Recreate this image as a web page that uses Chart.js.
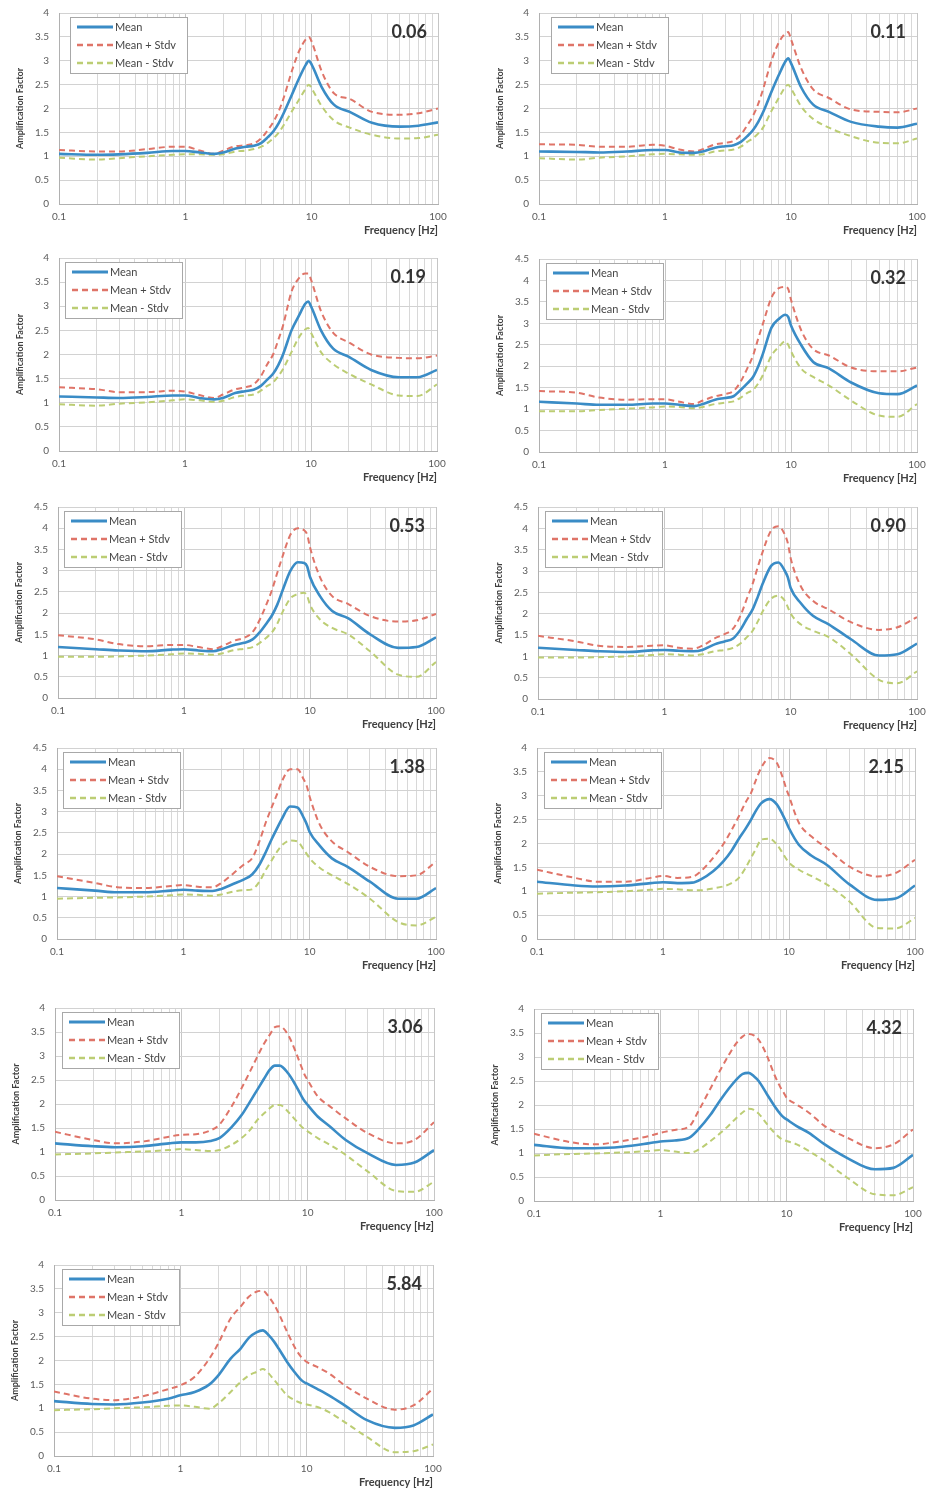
<!DOCTYPE html>
<html>
<head>
<meta charset="utf-8">
<script src="https://cdn.jsdelivr.net/npm/chart.js@4.4.1/dist/chart.umd.min.js"></script>
<style>
  body { margin: 0; background: #fff; }
  #page { position: relative; width: 930px; height: 1491px; overflow: hidden; background: #fff; }
  #page canvas { position: absolute; }
</style>
</head>
<body>
<div id="page"></div>
<script>
// frequencies (Hz) shared by every curve
const freq = [0.1, 0.2, 0.3, 0.5, 0.8, 1, 1.3, 1.7, 2, 2.5, 3, 3.5, 4, 4.5, 5, 5.5, 6, 7, 8, 9, 9.5, 10, 12, 15, 20, 30, 50, 70, 100];
const xTickLabels = ['0.1', '1', '10', '100'];
const seriesNames = ['Mean', 'Mean + Stdv', 'Mean - Stdv'];
const panelTitles = ['0.06', '0.11', '0.19', '0.32', '0.53', '0.90', '1.38', '2.15', '3.06', '4.32', '5.84'];
const yMaxes = [4, 4, 4, 4.5, 4.5, 4.5, 4.5, 4, 4, 4, 4];

const mean_006  = [1.05,1.03,1.04,1.07,1.11,1.11,1.08,1.05,1.08,1.16,1.2,1.22,1.28,1.4,1.53,1.7,1.9,2.3,2.65,2.92,3.0,2.92,2.45,2.08,1.93,1.7,1.62,1.64,1.71];
const plus_006  = [1.13,1.1,1.1,1.15,1.2,1.2,1.12,1.05,1.12,1.21,1.23,1.27,1.38,1.55,1.73,1.95,2.22,2.8,3.22,3.45,3.5,3.4,2.78,2.32,2.2,1.93,1.87,1.9,2.0];
const minus_006 = [0.97,0.93,0.96,1.0,1.03,1.04,1.04,1.03,1.04,1.1,1.12,1.15,1.2,1.28,1.38,1.5,1.65,1.95,2.2,2.42,2.5,2.42,2.05,1.75,1.6,1.45,1.37,1.38,1.45];

const mean_011  = [1.1,1.09,1.08,1.1,1.13,1.13,1.08,1.07,1.1,1.18,1.21,1.23,1.3,1.42,1.55,1.72,1.92,2.35,2.7,2.98,3.05,2.95,2.45,2.08,1.93,1.72,1.62,1.6,1.68];
const plus_011  = [1.25,1.24,1.2,1.2,1.24,1.22,1.14,1.1,1.15,1.25,1.28,1.32,1.45,1.65,1.85,2.1,2.4,3.0,3.38,3.57,3.6,3.45,2.85,2.4,2.22,1.98,1.93,1.92,2.0];
const minus_011 = [0.96,0.93,0.97,1.0,1.04,1.05,1.04,1.03,1.04,1.1,1.12,1.14,1.2,1.3,1.38,1.48,1.6,1.95,2.22,2.45,2.5,2.42,2.05,1.78,1.6,1.42,1.28,1.27,1.37];

const mean_019  = [1.13,1.11,1.1,1.12,1.15,1.15,1.1,1.07,1.1,1.2,1.24,1.27,1.35,1.48,1.6,1.78,2.0,2.5,2.8,3.05,3.1,3.0,2.5,2.12,1.95,1.68,1.53,1.53,1.68];
const plus_019  = [1.32,1.28,1.22,1.22,1.25,1.23,1.16,1.1,1.17,1.28,1.32,1.38,1.55,1.8,2.0,2.3,2.6,3.3,3.58,3.68,3.68,3.55,2.9,2.45,2.25,2.0,1.93,1.92,1.98];
const minus_019 = [0.97,0.94,0.98,1.01,1.05,1.07,1.05,1.02,1.04,1.12,1.15,1.17,1.25,1.35,1.42,1.55,1.7,2.05,2.35,2.52,2.55,2.45,2.05,1.8,1.6,1.38,1.15,1.14,1.38];

const mean_032  = [1.17,1.13,1.1,1.1,1.13,1.13,1.1,1.07,1.12,1.22,1.26,1.3,1.45,1.6,1.75,2.0,2.3,2.9,3.1,3.2,3.15,2.95,2.5,2.1,1.95,1.62,1.37,1.35,1.55];
const plus_032  = [1.42,1.38,1.27,1.22,1.23,1.23,1.17,1.12,1.2,1.3,1.35,1.42,1.65,1.95,2.25,2.65,3.0,3.6,3.82,3.85,3.8,3.55,2.85,2.4,2.25,1.97,1.88,1.88,1.97];
const minus_032 = [0.95,0.95,0.98,1.01,1.04,1.06,1.05,1.02,1.05,1.12,1.15,1.18,1.27,1.38,1.45,1.6,1.8,2.25,2.45,2.58,2.5,2.35,1.95,1.75,1.55,1.2,0.85,0.82,1.12];

const mean_053  = [1.2,1.15,1.12,1.1,1.14,1.15,1.12,1.1,1.15,1.25,1.3,1.38,1.55,1.75,1.95,2.2,2.5,3.0,3.2,3.18,3.1,2.85,2.4,2.05,1.88,1.5,1.18,1.2,1.43];
const plus_053  = [1.48,1.38,1.27,1.22,1.25,1.25,1.2,1.15,1.22,1.35,1.42,1.55,1.85,2.2,2.55,2.95,3.3,3.85,4.0,3.95,3.85,3.55,2.85,2.4,2.22,1.93,1.8,1.83,1.98];
const minus_053 = [0.97,0.97,0.98,1.0,1.03,1.05,1.04,1.02,1.05,1.13,1.16,1.2,1.3,1.42,1.55,1.75,2.0,2.35,2.45,2.48,2.4,2.2,1.85,1.65,1.5,1.1,0.55,0.5,0.85];

const mean_090  = [1.2,1.15,1.12,1.1,1.14,1.15,1.13,1.12,1.15,1.28,1.35,1.42,1.62,1.88,2.1,2.4,2.7,3.12,3.2,3.0,2.85,2.6,2.25,1.95,1.75,1.4,1.02,1.05,1.3];
const plus_090  = [1.48,1.35,1.25,1.22,1.25,1.26,1.2,1.18,1.25,1.42,1.52,1.65,1.95,2.35,2.7,3.1,3.45,3.95,4.05,3.85,3.65,3.3,2.65,2.3,2.1,1.8,1.62,1.68,1.92];
const minus_090 = [0.97,0.97,0.98,1.0,1.03,1.05,1.04,1.02,1.05,1.12,1.15,1.2,1.3,1.45,1.6,1.82,2.05,2.35,2.42,2.3,2.15,2.0,1.75,1.6,1.45,1.05,0.45,0.37,0.65];

const mean_138  = [1.2,1.14,1.1,1.1,1.14,1.16,1.14,1.13,1.18,1.3,1.4,1.52,1.75,2.05,2.35,2.6,2.82,3.12,3.1,2.85,2.7,2.52,2.2,1.9,1.7,1.35,0.95,0.95,1.2];
const plus_138  = [1.48,1.32,1.22,1.2,1.25,1.27,1.23,1.22,1.32,1.55,1.75,1.9,2.3,2.75,3.1,3.4,3.7,4.0,4.0,3.75,3.6,3.35,2.7,2.3,2.05,1.7,1.48,1.5,1.82];
const minus_138 = [0.95,0.97,0.98,1.0,1.03,1.05,1.04,1.02,1.05,1.12,1.15,1.17,1.35,1.63,1.85,2.05,2.2,2.32,2.3,2.1,2.0,1.9,1.68,1.5,1.3,0.95,0.4,0.32,0.52];

const mean_215  = [1.2,1.12,1.1,1.12,1.17,1.19,1.17,1.18,1.25,1.42,1.62,1.85,2.1,2.3,2.5,2.7,2.84,2.93,2.82,2.58,2.45,2.32,1.97,1.75,1.55,1.15,0.82,0.85,1.12];
const plus_215  = [1.45,1.28,1.2,1.2,1.28,1.32,1.28,1.3,1.42,1.7,1.98,2.28,2.57,2.85,3.06,3.35,3.58,3.79,3.69,3.35,3.15,2.99,2.43,2.15,1.9,1.52,1.31,1.38,1.66];
const minus_215 = [0.95,0.97,0.98,1.0,1.03,1.05,1.04,1.02,1.02,1.06,1.1,1.17,1.28,1.48,1.7,1.9,2.08,2.1,1.98,1.78,1.68,1.6,1.45,1.32,1.14,0.79,0.23,0.22,0.44];

const mean_306  = [1.18,1.12,1.1,1.12,1.18,1.2,1.2,1.23,1.29,1.52,1.77,2.05,2.3,2.52,2.71,2.8,2.8,2.64,2.4,2.15,2.05,1.98,1.74,1.53,1.25,0.97,0.73,0.78,1.04];
const plus_306  = [1.42,1.25,1.18,1.22,1.32,1.36,1.37,1.45,1.57,1.95,2.33,2.68,2.99,3.25,3.44,3.6,3.62,3.44,3.1,2.75,2.6,2.5,2.16,1.95,1.7,1.39,1.18,1.25,1.62];
const minus_306 = [0.95,0.97,0.99,1.01,1.04,1.06,1.04,1.02,1.04,1.15,1.29,1.46,1.67,1.8,1.91,1.98,1.98,1.84,1.67,1.52,1.47,1.43,1.29,1.15,0.94,0.59,0.19,0.17,0.38];

const mean_432  = [1.17,1.1,1.1,1.13,1.2,1.24,1.26,1.32,1.49,1.8,2.11,2.35,2.53,2.65,2.67,2.6,2.5,2.22,1.98,1.8,1.74,1.7,1.56,1.42,1.18,0.9,0.66,0.69,0.96];
const plus_432  = [1.4,1.22,1.18,1.25,1.35,1.42,1.48,1.56,1.87,2.35,2.74,3.05,3.29,3.43,3.48,3.45,3.36,3.02,2.63,2.35,2.25,2.15,2.01,1.84,1.56,1.32,1.1,1.18,1.49];
const minus_432 = [0.95,0.98,0.99,1.01,1.04,1.06,1.03,1.0,1.07,1.25,1.42,1.58,1.73,1.85,1.92,1.9,1.82,1.6,1.42,1.3,1.27,1.25,1.18,1.04,0.83,0.49,0.14,0.12,0.29];

const mean_584  = [1.15,1.09,1.08,1.12,1.2,1.27,1.34,1.5,1.69,2.04,2.25,2.48,2.59,2.63,2.53,2.4,2.25,1.97,1.76,1.6,1.55,1.52,1.41,1.27,1.06,0.75,0.59,0.64,0.87];
const plus_584  = [1.35,1.2,1.17,1.25,1.4,1.48,1.66,2.04,2.36,2.88,3.13,3.34,3.44,3.46,3.34,3.18,2.99,2.6,2.29,2.08,2.02,1.97,1.87,1.73,1.48,1.2,0.97,1.06,1.41];
const minus_584 = [0.96,0.98,1.0,1.02,1.05,1.06,1.03,0.99,1.1,1.34,1.55,1.69,1.76,1.82,1.73,1.6,1.48,1.27,1.17,1.11,1.09,1.08,1.03,0.92,0.71,0.4,0.08,0.1,0.24];

const seriesByPanel = [
  [mean_006, plus_006, minus_006],
  [mean_011, plus_011, minus_011],
  [mean_019, plus_019, minus_019],
  [mean_032, plus_032, minus_032],
  [mean_053, plus_053, minus_053],
  [mean_090, plus_090, minus_090],
  [mean_138, plus_138, minus_138],
  [mean_215, plus_215, minus_215],
  [mean_306, plus_306, minus_306],
  [mean_432, plus_432, minus_432],
  [mean_584, plus_584, minus_584]
];

// plot-area boxes on the page
const panels = [
  { left: 59, top: 13, right: 438, bottom: 204, legendDx: 11 },
  { left: 539, top: 13, right: 917, bottom: 204, legendDx: 12 },
  { left: 59, top: 258, right: 437, bottom: 451, legendDx: 6 },
  { left: 539, top: 259, right: 917, bottom: 452, legendDx: 7 },
  { left: 58, top: 507, right: 436, bottom: 698, legendDx: 6 },
  { left: 538, top: 507, right: 917, bottom: 699, legendDx: 7 },
  { left: 57, top: 748, right: 436, bottom: 939, legendDx: 6 },
  { left: 537, top: 748, right: 915, bottom: 939, legendDx: 7 },
  { left: 55, top: 1008, right: 434, bottom: 1200, legendDx: 7 },
  { left: 534, top: 1009, right: 913, bottom: 1201, legendDx: 7 },
  { left: 54, top: 1265, right: 433, bottom: 1456, legendDx: 8 }
];

const seriesColors = ['#3a8cc6', '#df7468', '#bccd74'];
const seriesDash = [[], [6, 4], [6, 4]];
const seriesWidth = [2.6, 2, 2];

const FONT = "Lato, 'Open Sans', sans-serif";
Chart.defaults.font.family = FONT;

// minor log grid: 1..9 x each decade
const gridValues = [];
[0.1, 1, 10].forEach(d => {
  for (let k = 1; k <= 9; k++) gridValues.push(+(k * d).toPrecision(3));
});
gridValues.push(100);

const boxLegend = {
  id: 'boxLegend',
  afterDatasetsDraw(chart, args, opts) {
    const { ctx, chartArea: ca } = chart;
    const x = ca.left + opts.dx, y = ca.top + 4, w = 117, h = 56;
    ctx.save();
    ctx.fillStyle = '#fff';
    ctx.fillRect(x, y, w, h);
    ctx.strokeStyle = '#a8a8a8';
    ctx.lineWidth = 1;
    ctx.strokeRect(Math.round(x) + 0.5, Math.round(y) + 0.5, w, h);
    chart.data.datasets.forEach((ds, i) => {
      const ly = y + 10 + i * 18;
      ctx.beginPath();
      ctx.setLineDash(ds.borderDash || []);
      ctx.strokeStyle = ds.borderColor;
      ctx.lineWidth = ds.borderWidth + 0.4;
      ctx.moveTo(x + 7, ly);
      ctx.lineTo(x + 43, ly);
      ctx.stroke();
      ctx.setLineDash([]);
      ctx.fillStyle = '#454545';
      ctx.font = '11px ' + FONT;
      ctx.textBaseline = 'middle';
      ctx.textAlign = 'left';
      ctx.fillText(ds.label, x + 45, ly);
    });
    ctx.font = 'bold 18px ' + FONT;
    ctx.textAlign = 'right';
    ctx.textBaseline = 'middle';
    ctx.fillStyle = '#333';
    ctx.fillText(opts.title, ca.right - 11, ca.top + 19);
    ctx.restore();
  }
};

const page = document.getElementById('page');
// top/right padding must exceed the axes' own label overhang (label half size + tick padding)
const Y_AXIS_W = 48, X_AXIS_H = 37, PAD_TOP = 18, PAD_RIGHT = 20;

panels.forEach((p, n) => {
  const canvas = document.createElement('canvas');
  const cw = (p.right - p.left) + Y_AXIS_W + PAD_RIGHT;
  const ch = (p.bottom - p.top) + PAD_TOP + X_AXIS_H;
  canvas.width = cw;
  canvas.height = ch;
  canvas.style.left = (p.left - Y_AXIS_W) + 'px';
  canvas.style.top = (p.top - PAD_TOP) + 'px';
  canvas.style.width = cw + 'px';
  canvas.style.height = ch + 'px';
  page.appendChild(canvas);

  const datasets = seriesByPanel[n].map((vals, i) => ({
    label: seriesNames[i],
    data: vals.map((v, j) => ({ x: freq[j], y: v })),
    borderColor: seriesColors[i],
    borderDash: seriesDash[i],
    borderWidth: seriesWidth[i],
    pointRadius: 0,
    fill: false,
    cubicInterpolationMode: 'monotone'
  }));

  new Chart(canvas.getContext('2d'), {
    type: 'line',
    data: { datasets },
    options: {
      responsive: false,
      animation: false,
      devicePixelRatio: 1,
      layout: { padding: { top: PAD_TOP, right: PAD_RIGHT, left: 0, bottom: 0 } },
      plugins: {
        legend: { display: false },
        tooltip: { enabled: false },
        boxLegend: { dx: p.legendDx, title: panelTitles[n] }
      },
      scales: {
        x: {
          type: 'logarithmic',
          min: 0.1,
          max: 100,
          afterBuildTicks: s => { s.ticks = gridValues.map(v => ({ value: v })); },
          afterFit: s => { s.height = X_AXIS_H; },
          grid: {
            drawTicks: false,
            color: ctx => (xTickLabels.includes(String(ctx.tick && ctx.tick.value)) ? '#c6c6c6' : '#d8d8d8')
          },
          border: { color: '#b0b0b0' },
          ticks: {
            autoSkip: false,
            maxRotation: 0,
            padding: 7,
            color: '#5a5a5a',
            font: { size: 10 },
            callback: v => {
              const l = xTickLabels.find(t => +t === v);
              return l === undefined ? '' : l;
            }
          },
          title: {
            display: true,
            text: 'Frequency [Hz]',
            align: 'end',
            color: '#404040',
            font: { size: 11, weight: 'bold' },
            padding: { top: 0, bottom: 4 }
          }
        },
        y: {
          min: 0,
          max: yMaxes[n],
          afterFit: s => { s.width = Y_AXIS_W; },
          grid: { drawTicks: false, color: '#d2d2d2' },
          border: { color: '#b0b0b0' },
          ticks: {
            stepSize: 0.5,
            padding: 10,
            color: '#5a5a5a',
            font: { size: 10 },
            callback: v => String(v)
          },
          title: {
            display: true,
            text: 'Amplification Factor',
            color: '#404040',
            font: { size: 9, weight: 'bold' },
            padding: { top: 4, bottom: 0 }
          }
        }
      }
    },
    plugins: [boxLegend]
  });
});
</script>
</body>
</html>
